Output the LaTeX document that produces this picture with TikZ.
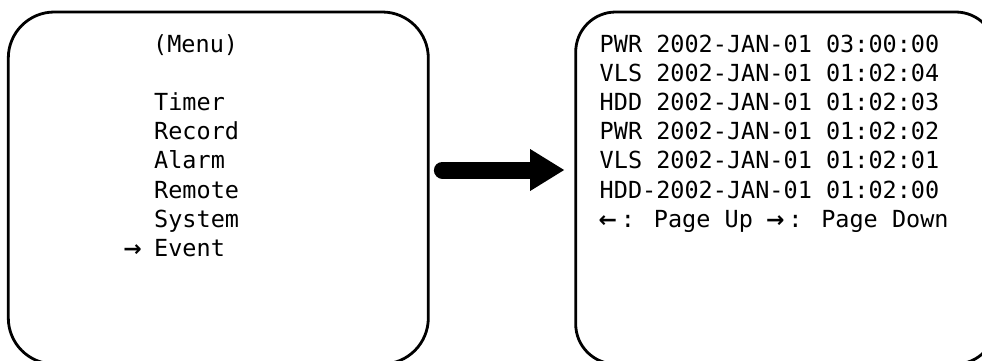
\documentclass[tikz,border=0pt]{standalone}
\usepackage{fontspec}
\newfontfamily\monofont{DejaVu Sans Mono}
\newfontfamily\arrowfont{DejaVu Sans Bold}
\usetikzlibrary{arrows.meta}
\newcommand{\colarrow}[1]{\makebox[21.2pt][l]{\hspace*{-1pt}\arrowfont\fontsize{22}{29.2}\selectfont #1}}
\tikzset{
  screen/.style={draw=black, line width=2.8pt, rectangle, minimum width=420pt, minimum height=352pt, inner sep=0pt},
  txt/.style={anchor=base west, inner sep=0pt, font=\monofont\fontsize{23.5}{29.2}\selectfont},
  bigarrow/.style={line width=17pt, line cap=round, -{Triangle[length=34pt,width=42pt,line width=0pt]}},
}
\begin{document}
\begin{tikzpicture}[x=1pt,y=-1pt]
\useasboundingbox (0,0) rectangle (982,360);
\node[screen, rounded corners=46pt] (menu) at (218.3,188) {};
\node[screen, rounded corners=40pt] (events) at (785.7,188) {};
% menu texts
\node[txt] (mtitle) at (153,52) {(Menu)};
\foreach \t [count=\i from 2] in {Timer,Record,Alarm,Remote,System}
  \node[txt] (m\i) at (154,52+29.2*\i) {\t};
\node[txt] (m7) at (154,52+29.2*7) {\llap{{\arrowfont\fontsize{22}{29.2}\selectfont →}\hspace{12.4pt}}Event};
% event texts
\foreach \t [count=\i from 0] in {PWR 2002-JAN-01 03:00:00,VLS 2002-JAN-01 01:02:04,HDD 2002-JAN-01 01:02:03,PWR 2002-JAN-01 01:02:02,VLS 2002-JAN-01 01:02:01,HDD-2002-JAN-01 01:02:00}
  \node[txt] (e\i) at (599.5,52+29.2*\i) {\t};
\node[txt] (e6) at (599.5,52+29.2*6) {\colarrow{←}: Page Up \colarrow{→}: Page Down};
\draw[bigarrow, shorten <=12.7pt, shorten >=10.2pt] ([yshift=18pt]menu.east) -- ([yshift=18pt]events.west);
\end{tikzpicture}
\end{document}
